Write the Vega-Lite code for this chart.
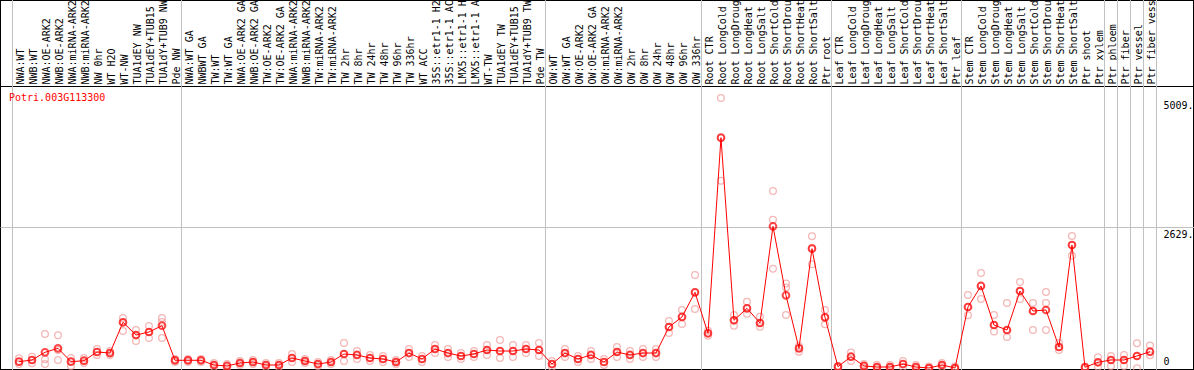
{
  "$schema": "https://vega.github.io/schema/vega-lite/v6.json",
  "width": 1194,
  "height": 370,
  "autosize": "none",
  "padding": 0,
  "background": "white",
  "config": {"view": {"stroke": "black", "strokeWidth": 2}, "font": "DejaVu Sans Mono"},
  "title": {"text": "Potri.003G113300", "orient": "bottom", "anchor": "start", "frame": "group", "offset": -282, "baseline": "top", "dx": 9, "color": "#ff0000", "font": "DejaVu Sans Mono", "fontSize": 10, "fontWeight": "normal"},
  "datasets": {
    "names": [
      {"s": "NWA:WT"}, {"s": "NWB:WT"}, {"s": "NWA:OE-ARK2"}, {"s": "NWB:OE-ARK2"}, {"s": "NWA:miRNA-ARK2"}, {"s": "NWB:miRNA-ARK2"}, {"s": "NW 0hr"}, {"s": "WT H2O"}, {"s": "WT-NW"}, {"s": "TUA1dEY NW"}, {"s": "TUA1dEY+TUB15 NW"}, {"s": "TUA1dY+TUB9 NW"}, {"s": "Pde NW"},
      {"s": "NWA:WT GA"}, {"s": "NWBWT GA"}, {"s": "TW:WT"}, {"s": "TW:WT GA"}, {"s": "NWA:OE-ARK2 GA"}, {"s": "NWB:OE-ARK2 GA"}, {"s": "TW:OE-ARK2"}, {"s": "TW:OE-ARK2 GA"}, {"s": "NWA:miRNA-ARK2 "}, {"s": "NWB:miRNA-ARK2 "}, {"s": "TW:miRNA-ARK2"}, {"s": "TW:miRNA-ARK2 "}, {"s": "TW 2hr"}, {"s": "TW 8hr"}, {"s": "TW 24hr"}, {"s": "TW 48hr"}, {"s": "TW 96hr"}, {"s": "TW 336hr"}, {"s": "WT ACC"}, {"s": "35S::etr1-1 H2O"}, {"s": "35S::etr1-1 ACC"}, {"s": "LMX5::etr1-1 H2O"}, {"s": "LMX5::etr1-1 ACC"}, {"s": "WT-TW"}, {"s": "TUA1dEY TW"}, {"s": "TUA1dEY+TUB15 TW"}, {"s": "TUA1dY+TUB9 TW"}, {"s": "Pde TW"},
      {"s": "OW:WT"}, {"s": "OW:WT GA"}, {"s": "OW:OE-ARK2"}, {"s": "OW:OE-ARK2 GA"}, {"s": "OW:miRNA-ARK2"}, {"s": "OW:miRNA-ARK2 "}, {"s": "OW 2hr"}, {"s": "OW 8hr"}, {"s": "OW 24hr"}, {"s": "OW 48hr"}, {"s": "OW 96hr"}, {"s": "OW 336hr"},
      {"s": "Root CTR"}, {"s": "Root LongCold"}, {"s": "Root LongDrought"}, {"s": "Root LongHeat"}, {"s": "Root LongSalt"}, {"s": "Root ShortCold"}, {"s": "Root ShortDrought"}, {"s": "Root ShortHeat"}, {"s": "Root ShortSalt"}, {"s": "Ptr root"},
      {"s": "Leaf CTR"}, {"s": "Leaf LongCold"}, {"s": "Leaf LongDrought"}, {"s": "Leaf LongHeat"}, {"s": "Leaf LongSalt"}, {"s": "Leaf ShortCold"}, {"s": "Leaf ShortDrought"}, {"s": "Leaf ShortHeat"}, {"s": "Leaf ShortSalt"}, {"s": "Ptr leaf"},
      {"s": "Stem CTR"}, {"s": "Stem LongCold"}, {"s": "Stem LongDrought"}, {"s": "Stem LongHeat"}, {"s": "Stem LongSalt"}, {"s": "Stem ShortCold"}, {"s": "Stem ShortDrought"}, {"s": "Stem ShortHeat"}, {"s": "Stem ShortSalt"}, {"s": "Ptr shoot"}, {"s": "Ptr xylem"}, {"s": "Ptr phloem"}, {"s": "Ptr fiber"}, {"s": "Ptr vessel"}, {"s": "Ptr fiber vessel"}
    ],
    "starts": [
      {"s": "NWA:WT"}, {"s": "NWA:WT GA"}, {"s": "OW:WT"}, {"s": "Root CTR"}, {"s": "Leaf CTR"}, {"s": "Stem CTR"}, {"s": "Ptr phloem"}, {"s": "Ptr fiber"}, {"s": "Ptr vessel"}, {"s": "Ptr fiber vessel"}
    ],
    "ends": [{"s": "Ptr fiber vessel"}],
    "means": [
      {"s": "NWA:WT", "v": 144}, {"s": "NWB:WT", "v": 175}, {"s": "NWA:OE-ARK2", "v": 317}, {"s": "NWB:OE-ARK2", "v": 391}, {"s": "NWA:miRNA-ARK2", "v": 144}, {"s": "NWB:miRNA-ARK2", "v": 162}, {"s": "NW 0hr", "v": 323}, {"s": "WT H2O", "v": 304}, {"s": "WT-NW", "v": 871}, {"s": "TUA1dEY NW", "v": 636}, {"s": "TUA1dEY+TUB15 NW", "v": 692}, {"s": "TUA1dY+TUB9 NW", "v": 808}, {"s": "Pde NW", "v": 170},
      {"s": "NWA:WT GA", "v": 170}, {"s": "NWBWT GA", "v": 170}, {"s": "TW:WT", "v": 83}, {"s": "TW:WT GA", "v": 65}, {"s": "NWA:OE-ARK2 GA", "v": 120}, {"s": "NWB:OE-ARK2 GA", "v": 138}, {"s": "TW:OE-ARK2", "v": 83}, {"s": "TW:OE-ARK2 GA", "v": 83}, {"s": "NWA:miRNA-ARK2 ", "v": 212}, {"s": "NWB:miRNA-ARK2 ", "v": 157}, {"s": "TW:miRNA-ARK2", "v": 101}, {"s": "TW:miRNA-ARK2 ", "v": 138}, {"s": "TW 2hr", "v": 286}, {"s": "TW 8hr", "v": 268}, {"s": "TW 24hr", "v": 212}, {"s": "TW 48hr", "v": 194}, {"s": "TW 96hr", "v": 138}, {"s": "TW 336hr", "v": 304}, {"s": "WT ACC", "v": 194}, {"s": "35S::etr1-1 H2O", "v": 378}, {"s": "35S::etr1-1 ACC", "v": 304}, {"s": "LMX5::etr1-1 H2O", "v": 249}, {"s": "LMX5::etr1-1 ACC", "v": 286}, {"s": "WT-TW", "v": 360}, {"s": "TUA1dEY TW", "v": 341}, {"s": "TUA1dEY+TUB15 TW", "v": 341}, {"s": "TUA1dY+TUB9 TW", "v": 378}, {"s": "Pde TW", "v": 360},
      {"s": "OW:WT", "v": 101}, {"s": "OW:WT GA", "v": 304}, {"s": "OW:OE-ARK2", "v": 194}, {"s": "OW:OE-ARK2 GA", "v": 268}, {"s": "OW:miRNA-ARK2", "v": 138}, {"s": "OW:miRNA-ARK2 ", "v": 323}, {"s": "OW 2hr", "v": 268}, {"s": "OW 8hr", "v": 304}, {"s": "OW 24hr", "v": 304}, {"s": "OW 48hr", "v": 784}, {"s": "OW 96hr", "v": 969}, {"s": "OW 336hr", "v": 1424},
      {"s": "Root CTR", "v": 668}, {"s": "Root LongCold", "v": 4277}, {"s": "Root LongDrought", "v": 908}, {"s": "Root LongHeat", "v": 1129}, {"s": "Root LongSalt", "v": 858}, {"s": "Root ShortCold", "v": 2642}, {"s": "Root ShortDrought", "v": 1369}, {"s": "Root ShortHeat", "v": 391}, {"s": "Root ShortSalt", "v": 2229}, {"s": "Ptr root", "v": 963},
      {"s": "Leaf CTR", "v": 52}, {"s": "Leaf LongCold", "v": 236}, {"s": "Leaf LongDrought", "v": 65}, {"s": "Leaf LongHeat", "v": 46}, {"s": "Leaf LongSalt", "v": 46}, {"s": "Leaf ShortCold", "v": 101}, {"s": "Leaf ShortDrought", "v": 46}, {"s": "Leaf ShortHeat", "v": 28}, {"s": "Leaf ShortSalt", "v": 83}, {"s": "Ptr leaf", "v": 28},
      {"s": "Stem CTR", "v": 1153}, {"s": "Stem LongCold", "v": 1541}, {"s": "Stem LongDrought", "v": 821}, {"s": "Stem LongHeat", "v": 729}, {"s": "Stem LongSalt", "v": 1448}, {"s": "Stem ShortCold", "v": 1079}, {"s": "Stem ShortDrought", "v": 1098}, {"s": "Stem ShortHeat", "v": 415}, {"s": "Stem ShortSalt", "v": 2297}, {"s": "Ptr shoot", "v": 41}, {"s": "Ptr xylem", "v": 133}, {"s": "Ptr phloem", "v": 175}, {"s": "Ptr fiber", "v": 175}, {"s": "Ptr vessel", "v": 249}, {"s": "Ptr fiber vessel", "v": 328}
    ],
    "reps": [
      {"s": "NWA:WT", "v": 207}, {"s": "NWA:WT", "v": 144}, {"s": "NWA:WT", "v": 101},
      {"s": "NWB:WT", "v": 236}, {"s": "NWB:WT", "v": 175}, {"s": "NWB:WT", "v": 114},
      {"s": "NWA:OE-ARK2", "v": 655}, {"s": "NWA:OE-ARK2", "v": 188}, {"s": "NWA:OE-ARK2", "v": 101},
      {"s": "NWB:OE-ARK2", "v": 631}, {"s": "NWB:OE-ARK2", "v": 360}, {"s": "NWB:OE-ARK2", "v": 175},
      {"s": "NWA:miRNA-ARK2", "v": 212}, {"s": "NWA:miRNA-ARK2", "v": 144}, {"s": "NWA:miRNA-ARK2", "v": 65},
      {"s": "NWB:miRNA-ARK2", "v": 212}, {"s": "NWB:miRNA-ARK2", "v": 157}, {"s": "NWB:miRNA-ARK2", "v": 120},
      {"s": "NW 0hr", "v": 378}, {"s": "NW 0hr", "v": 323}, {"s": "NW 0hr", "v": 268},
      {"s": "WT H2O", "v": 341}, {"s": "WT H2O", "v": 304}, {"s": "WT H2O", "v": 268},
      {"s": "WT-NW", "v": 950}, {"s": "WT-NW", "v": 871}, {"s": "WT-NW", "v": 710},
      {"s": "TUA1dEY NW", "v": 729}, {"s": "TUA1dEY NW", "v": 636}, {"s": "TUA1dEY NW", "v": 526},
      {"s": "TUA1dEY+TUB15 NW", "v": 803}, {"s": "TUA1dEY+TUB15 NW", "v": 692}, {"s": "TUA1dEY+TUB15 NW", "v": 580},
      {"s": "TUA1dY+TUB9 NW", "v": 950}, {"s": "TUA1dY+TUB9 NW", "v": 876}, {"s": "TUA1dY+TUB9 NW", "v": 581},
      {"s": "Pde NW", "v": 194}, {"s": "Pde NW", "v": 170}, {"s": "Pde NW", "v": 138},
      {"s": "NWA:WT GA", "v": 194}, {"s": "NWA:WT GA", "v": 170}, {"s": "NWA:WT GA", "v": 138},
      {"s": "NWBWT GA", "v": 194}, {"s": "NWBWT GA", "v": 170}, {"s": "NWBWT GA", "v": 138},
      {"s": "TW:WT", "v": 120}, {"s": "TW:WT", "v": 83}, {"s": "TW:WT", "v": 46},
      {"s": "TW:WT GA", "v": 101}, {"s": "TW:WT GA", "v": 65}, {"s": "TW:WT GA", "v": 28},
      {"s": "NWA:OE-ARK2 GA", "v": 157}, {"s": "NWA:OE-ARK2 GA", "v": 120}, {"s": "NWA:OE-ARK2 GA", "v": 83},
      {"s": "NWB:OE-ARK2 GA", "v": 175}, {"s": "NWB:OE-ARK2 GA", "v": 138}, {"s": "NWB:OE-ARK2 GA", "v": 101},
      {"s": "TW:OE-ARK2", "v": 120}, {"s": "TW:OE-ARK2", "v": 83}, {"s": "TW:OE-ARK2", "v": 46},
      {"s": "TW:OE-ARK2 GA", "v": 120}, {"s": "TW:OE-ARK2 GA", "v": 83}, {"s": "TW:OE-ARK2 GA", "v": 46},
      {"s": "NWA:miRNA-ARK2 ", "v": 286}, {"s": "NWA:miRNA-ARK2 ", "v": 212}, {"s": "NWA:miRNA-ARK2 ", "v": 138},
      {"s": "NWB:miRNA-ARK2 ", "v": 194}, {"s": "NWB:miRNA-ARK2 ", "v": 157}, {"s": "NWB:miRNA-ARK2 ", "v": 120},
      {"s": "TW:miRNA-ARK2", "v": 138}, {"s": "TW:miRNA-ARK2", "v": 101}, {"s": "TW:miRNA-ARK2", "v": 65},
      {"s": "TW:miRNA-ARK2 ", "v": 175}, {"s": "TW:miRNA-ARK2 ", "v": 138}, {"s": "TW:miRNA-ARK2 ", "v": 101},
      {"s": "TW 2hr", "v": 489}, {"s": "TW 2hr", "v": 286}, {"s": "TW 2hr", "v": 157},
      {"s": "TW 8hr", "v": 341}, {"s": "TW 8hr", "v": 268}, {"s": "TW 8hr", "v": 194},
      {"s": "TW 24hr", "v": 268}, {"s": "TW 24hr", "v": 212}, {"s": "TW 24hr", "v": 157},
      {"s": "TW 48hr", "v": 249}, {"s": "TW 48hr", "v": 194}, {"s": "TW 48hr", "v": 138},
      {"s": "TW 96hr", "v": 175}, {"s": "TW 96hr", "v": 138}, {"s": "TW 96hr", "v": 101},
      {"s": "TW 336hr", "v": 378}, {"s": "TW 336hr", "v": 304}, {"s": "TW 336hr", "v": 231},
      {"s": "WT ACC", "v": 249}, {"s": "WT ACC", "v": 194}, {"s": "WT ACC", "v": 138},
      {"s": "35S::etr1-1 H2O", "v": 452}, {"s": "35S::etr1-1 H2O", "v": 378}, {"s": "35S::etr1-1 H2O", "v": 304},
      {"s": "35S::etr1-1 ACC", "v": 378}, {"s": "35S::etr1-1 ACC", "v": 304}, {"s": "35S::etr1-1 ACC", "v": 231},
      {"s": "LMX5::etr1-1 H2O", "v": 304}, {"s": "LMX5::etr1-1 H2O", "v": 249}, {"s": "LMX5::etr1-1 H2O", "v": 194},
      {"s": "LMX5::etr1-1 ACC", "v": 341}, {"s": "LMX5::etr1-1 ACC", "v": 286}, {"s": "LMX5::etr1-1 ACC", "v": 231},
      {"s": "WT-TW", "v": 452}, {"s": "WT-TW", "v": 360}, {"s": "WT-TW", "v": 268},
      {"s": "TUA1dEY TW", "v": 544}, {"s": "TUA1dEY TW", "v": 341}, {"s": "TUA1dEY TW", "v": 212},
      {"s": "TUA1dEY+TUB15 TW", "v": 452}, {"s": "TUA1dEY+TUB15 TW", "v": 341}, {"s": "TUA1dEY+TUB15 TW", "v": 231},
      {"s": "TUA1dY+TUB9 TW", "v": 452}, {"s": "TUA1dY+TUB9 TW", "v": 378}, {"s": "TUA1dY+TUB9 TW", "v": 304},
      {"s": "Pde TW", "v": 489}, {"s": "Pde TW", "v": 360}, {"s": "Pde TW", "v": 249},
      {"s": "OW:WT", "v": 157}, {"s": "OW:WT", "v": 101}, {"s": "OW:WT", "v": 46},
      {"s": "OW:WT GA", "v": 378}, {"s": "OW:WT GA", "v": 304}, {"s": "OW:WT GA", "v": 231},
      {"s": "OW:OE-ARK2", "v": 249}, {"s": "OW:OE-ARK2", "v": 194}, {"s": "OW:OE-ARK2", "v": 138},
      {"s": "OW:OE-ARK2 GA", "v": 341}, {"s": "OW:OE-ARK2 GA", "v": 268}, {"s": "OW:OE-ARK2 GA", "v": 194},
      {"s": "OW:miRNA-ARK2", "v": 194}, {"s": "OW:miRNA-ARK2", "v": 138}, {"s": "OW:miRNA-ARK2", "v": 83},
      {"s": "OW:miRNA-ARK2 ", "v": 415}, {"s": "OW:miRNA-ARK2 ", "v": 323}, {"s": "OW:miRNA-ARK2 ", "v": 231},
      {"s": "OW 2hr", "v": 341}, {"s": "OW 2hr", "v": 268}, {"s": "OW 2hr", "v": 194},
      {"s": "OW 8hr", "v": 378}, {"s": "OW 8hr", "v": 304}, {"s": "OW 8hr", "v": 231},
      {"s": "OW 24hr", "v": 378}, {"s": "OW 24hr", "v": 304}, {"s": "OW 24hr", "v": 231},
      {"s": "OW 48hr", "v": 895}, {"s": "OW 48hr", "v": 784}, {"s": "OW 48hr", "v": 673},
      {"s": "OW 96hr", "v": 1098}, {"s": "OW 96hr", "v": 969}, {"s": "OW 96hr", "v": 840},
      {"s": "OW 336hr", "v": 1743}, {"s": "OW 336hr", "v": 1424}, {"s": "OW 336hr", "v": 1116},
      {"s": "Root CTR", "v": 714}, {"s": "Root CTR", "v": 668}, {"s": "Root CTR", "v": 622},
      {"s": "Root LongCold", "v": 5009}, {"s": "Root LongCold", "v": 4271}, {"s": "Root LongCold", "v": 3483},
      {"s": "Root LongDrought", "v": 1006}, {"s": "Root LongDrought", "v": 908}, {"s": "Root LongDrought", "v": 806},
      {"s": "Root LongHeat", "v": 1250}, {"s": "Root LongHeat", "v": 1129}, {"s": "Root LongHeat", "v": 1028},
      {"s": "Root LongSalt", "v": 974}, {"s": "Root LongSalt", "v": 858}, {"s": "Root LongSalt", "v": 790},
      {"s": "Root ShortCold", "v": 3292}, {"s": "Root ShortCold", "v": 2763}, {"s": "Root ShortCold", "v": 1860},
      {"s": "Root ShortDrought", "v": 1587}, {"s": "Root ShortDrought", "v": 1513}, {"s": "Root ShortDrought", "v": 1006},
      {"s": "Root ShortHeat", "v": 433}, {"s": "Root ShortHeat", "v": 391}, {"s": "Root ShortHeat", "v": 329},
      {"s": "Root ShortSalt", "v": 2457}, {"s": "Root ShortSalt", "v": 2242}, {"s": "Root ShortSalt", "v": 1941},
      {"s": "Ptr root", "v": 1098}, {"s": "Ptr root", "v": 963}, {"s": "Ptr root", "v": 833},
      {"s": "Leaf CTR", "v": 65}, {"s": "Leaf CTR", "v": 52}, {"s": "Leaf CTR", "v": 37},
      {"s": "Leaf LongCold", "v": 313}, {"s": "Leaf LongCold", "v": 236}, {"s": "Leaf LongCold", "v": 157},
      {"s": "Leaf LongDrought", "v": 101}, {"s": "Leaf LongDrought", "v": 65}, {"s": "Leaf LongDrought", "v": 28},
      {"s": "Leaf LongHeat", "v": 83}, {"s": "Leaf LongHeat", "v": 46}, {"s": "Leaf LongHeat", "v": 18},
      {"s": "Leaf LongSalt", "v": 83}, {"s": "Leaf LongSalt", "v": 46}, {"s": "Leaf LongSalt", "v": 18},
      {"s": "Leaf ShortCold", "v": 157}, {"s": "Leaf ShortCold", "v": 101}, {"s": "Leaf ShortCold", "v": 46},
      {"s": "Leaf ShortDrought", "v": 83}, {"s": "Leaf ShortDrought", "v": 46}, {"s": "Leaf ShortDrought", "v": 18},
      {"s": "Leaf ShortHeat", "v": 55}, {"s": "Leaf ShortHeat", "v": 28}, {"s": "Leaf ShortHeat", "v": 9},
      {"s": "Leaf ShortSalt", "v": 120}, {"s": "Leaf ShortSalt", "v": 83}, {"s": "Leaf ShortSalt", "v": 46},
      {"s": "Ptr leaf", "v": 55}, {"s": "Ptr leaf", "v": 28}, {"s": "Ptr leaf", "v": 9},
      {"s": "Stem CTR", "v": 1375}, {"s": "Stem CTR", "v": 1153}, {"s": "Stem CTR", "v": 1000},
      {"s": "Stem LongCold", "v": 1780}, {"s": "Stem LongCold", "v": 1541}, {"s": "Stem LongCold", "v": 1300},
      {"s": "Stem LongDrought", "v": 1006}, {"s": "Stem LongDrought", "v": 821}, {"s": "Stem LongDrought", "v": 700},
      {"s": "Stem LongHeat", "v": 1227}, {"s": "Stem LongHeat", "v": 729}, {"s": "Stem LongHeat", "v": 600},
      {"s": "Stem LongSalt", "v": 1614}, {"s": "Stem LongSalt", "v": 1448}, {"s": "Stem LongSalt", "v": 1300},
      {"s": "Stem ShortCold", "v": 1227}, {"s": "Stem ShortCold", "v": 1079}, {"s": "Stem ShortCold", "v": 729},
      {"s": "Stem ShortDrought", "v": 1430}, {"s": "Stem ShortDrought", "v": 1227}, {"s": "Stem ShortDrought", "v": 729},
      {"s": "Stem ShortHeat", "v": 489}, {"s": "Stem ShortHeat", "v": 415}, {"s": "Stem ShortHeat", "v": 360},
      {"s": "Stem ShortSalt", "v": 2463}, {"s": "Stem ShortSalt", "v": 2297}, {"s": "Stem ShortSalt", "v": 2100},
      {"s": "Ptr shoot", "v": 55}, {"s": "Ptr shoot", "v": 41}, {"s": "Ptr shoot", "v": 28},
      {"s": "Ptr xylem", "v": 225}, {"s": "Ptr xylem", "v": 133}, {"s": "Ptr xylem", "v": 52},
      {"s": "Ptr phloem", "v": 249}, {"s": "Ptr phloem", "v": 175}, {"s": "Ptr phloem", "v": 65},
      {"s": "Ptr fiber", "v": 268}, {"s": "Ptr fiber", "v": 175}, {"s": "Ptr fiber", "v": 65},
      {"s": "Ptr vessel", "v": 483}, {"s": "Ptr vessel", "v": 249}, {"s": "Ptr vessel", "v": 22},
      {"s": "Ptr fiber vessel", "v": 443}, {"s": "Ptr fiber vessel", "v": 328}, {"s": "Ptr fiber vessel", "v": 264}
    ]
  },
  "layer": [
    {
      "data": {"name": "names"},
      "mark": {"type": "rule", "opacity": 0},
      "encoding": {
        "x": {
          "field": "s", "type": "nominal",
          "scale": {"type": "band", "domain": ["NWA:WT", "NWB:WT", "NWA:OE-ARK2", "NWB:OE-ARK2", "NWA:miRNA-ARK2", "NWB:miRNA-ARK2", "NW 0hr", "WT H2O", "WT-NW", "TUA1dEY NW", "TUA1dEY+TUB15 NW", "TUA1dY+TUB9 NW", "Pde NW", "NWA:WT GA", "NWBWT GA", "TW:WT", "TW:WT GA", "NWA:OE-ARK2 GA", "NWB:OE-ARK2 GA", "TW:OE-ARK2", "TW:OE-ARK2 GA", "NWA:miRNA-ARK2 ", "NWB:miRNA-ARK2 ", "TW:miRNA-ARK2", "TW:miRNA-ARK2 ", "TW 2hr", "TW 8hr", "TW 24hr", "TW 48hr", "TW 96hr", "TW 336hr", "WT ACC", "35S::etr1-1 H2O", "35S::etr1-1 ACC", "LMX5::etr1-1 H2O", "LMX5::etr1-1 ACC", "WT-TW", "TUA1dEY TW", "TUA1dEY+TUB15 TW", "TUA1dY+TUB9 TW", "Pde TW", "OW:WT", "OW:WT GA", "OW:OE-ARK2", "OW:OE-ARK2 GA", "OW:miRNA-ARK2", "OW:miRNA-ARK2 ", "OW 2hr", "OW 8hr", "OW 24hr", "OW 48hr", "OW 96hr", "OW 336hr", "Root CTR", "Root LongCold", "Root LongDrought", "Root LongHeat", "Root LongSalt", "Root ShortCold", "Root ShortDrought", "Root ShortHeat", "Root ShortSalt", "Ptr root", "Leaf CTR", "Leaf LongCold", "Leaf LongDrought", "Leaf LongHeat", "Leaf LongSalt", "Leaf ShortCold", "Leaf ShortDrought", "Leaf ShortHeat", "Leaf ShortSalt", "Ptr leaf", "Stem CTR", "Stem LongCold", "Stem LongDrought", "Stem LongHeat", "Stem LongSalt", "Stem ShortCold", "Stem ShortDrought", "Stem ShortHeat", "Stem ShortSalt", "Ptr shoot", "Ptr xylem", "Ptr phloem", "Ptr fiber", "Ptr vessel", "Ptr fiber vessel", " ", "  "], "paddingInner": 0, "paddingOuter": 0.923, "align": 0.52},
          "axis": {"orient": "top", "offset": -86, "labelAngle": -90, "labelAlign": "left", "labelBaseline": "middle", "labelPadding": 2, "labelOffset": 2, "ticks": false, "domain": true, "domainColor": "black", "domainWidth": 1, "grid": false, "labelFont": "DejaVu Sans Mono", "labelFontSize": 10, "labelColor": "black", "labelLimit": 0, "labelOverlap": false, "title": null}
        }
      }
    },
    {
      "data": {"name": "starts"},
      "mark": {"type": "rule", "color": "#c0c0c0", "strokeWidth": 1},
      "encoding": {"x": {"field": "s", "type": "nominal", "bandPosition": 0}}
    },
    {
      "data": {"name": "ends"},
      "mark": {"type": "rule", "color": "#c0c0c0", "strokeWidth": 1},
      "encoding": {"x": {"field": "s", "type": "nominal", "bandPosition": 1}}
    },
    {
      "data": {"name": "reps"},
      "mark": {"type": "point", "shape": "circle", "filled": false, "size": 45, "stroke": "#f09a9a", "strokeWidth": 1.3},
      "encoding": {
        "x": {"field": "s", "type": "nominal"},
        "y": {"field": "v", "type": "quantitative"}
      }
    },
    {
      "data": {"name": "means"},
      "mark": {"type": "line", "color": "#ff0000", "strokeWidth": 1},
      "encoding": {
        "x": {"field": "s", "type": "nominal"},
        "y": {
          "field": "v", "type": "quantitative",
          "scale": {"domain": [0, 5009], "range": [369.5, 98], "zero": false, "nice": false},
          "axis": {"orient": "right", "offset": -31, "values": [0, 2629, 5009], "labelExpr": "datum.value === 0 ? '0' : datum.value + '.'", "domain": false, "ticks": false, "labelPadding": 0, "labelAlign": "left", "labelBaseline": {"condition": {"test": "datum.value === 0", "value": "bottom"}, "value": "top"}, "labelOffset": {"condition": {"test": "datum.value === 0", "value": -3}, "value": 2}, "grid": true, "gridColor": "#c0c0c0", "gridOpacity": {"condition": {"test": "datum.value === 2629", "value": 1}, "value": 0}, "labelFont": "DejaVu Sans Mono", "labelFontSize": 10, "labelColor": "black", "title": null}
        }
      }
    },
    {
      "data": {"name": "means"},
      "mark": {"type": "point", "shape": "circle", "filled": false, "size": 45, "stroke": "#ff0000", "strokeWidth": 2},
      "encoding": {
        "x": {"field": "s", "type": "nominal"},
        "y": {"field": "v", "type": "quantitative"}
      }
    }
  ]
}
